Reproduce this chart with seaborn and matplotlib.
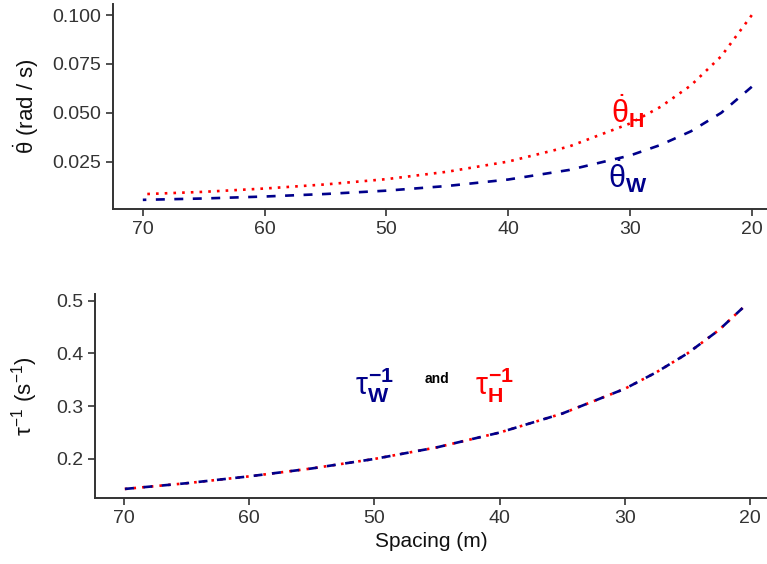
import matplotlib
matplotlib.use("Agg")
import matplotlib.pyplot as plt
import seaborn as sns
import pandas as pd

# Spacing between vehicles (m)
spacing = [70, 65, 60, 55, 50, 45, 40, 35, 30, 27.5, 25, 22.5, 20]
# Angular rate of the looming angle (rad/s)
theta_dot_H = [0.0083, 0.0095, 0.0112, 0.0133, 0.0160, 0.0198, 0.0250, 0.0327, 0.0445,
               0.0530, 0.0640, 0.0790, 0.1000]
theta_dot_W = [0.0054, 0.0061, 0.0071, 0.0084, 0.0101, 0.0125, 0.0158, 0.0207, 0.0281,
               0.0335, 0.0405, 0.0500, 0.0633]

# Inverse time-to-contact (1/s)
spacing_tau = [70, 65, 60, 55, 50, 45, 40, 35, 30, 27.5, 25, 22.5, 20.6]
tau_inv_H = [0.143, 0.154, 0.167, 0.182, 0.200, 0.222, 0.250, 0.286, 0.333, 0.364, 0.400,
             0.444, 0.486]
tau_inv_W = [0.143, 0.154, 0.167, 0.182, 0.200, 0.222, 0.250, 0.286, 0.333, 0.364, 0.400,
             0.444, 0.486]

top_ticks = [0.025, 0.050, 0.075, 0.100]
bottom_ticks = [0.2, 0.3, 0.4, 0.5]
x_ticks = [70, 60, 50, 40, 30, 20]

RED = "#FF0000"
NAVY = "#00008B"

sns.set_theme(style="ticks")
plt.rcParams["font.family"] = ["Liberation Sans", "DejaVu Sans"]
plt.rcParams["mathtext.fontset"] = "custom"
plt.rcParams["mathtext.rm"] = "Liberation Sans"
plt.rcParams["mathtext.it"] = "Liberation Sans"
plt.rcParams["mathtext.bf"] = "Liberation Sans:bold"

fig = plt.figure(figsize=(7.67, 5.64), dpi=100)
ax1 = fig.add_axes([0.1473, 0.6294, 0.8527, 0.3635])
ax2 = fig.add_axes([0.1239, 0.1170, 0.8761, 0.3617])

theta_df = pd.DataFrame({
    "spacing": spacing * 2,
    "value": theta_dot_H + theta_dot_W,
    "series": ["H"] * len(spacing) + ["W"] * len(spacing),
})
tau_df = pd.DataFrame({
    "spacing": spacing_tau * 2,
    "value": tau_inv_H + tau_inv_W,
    "series": ["H"] * len(spacing_tau) + ["W"] * len(spacing_tau),
})

palette = {"H": RED, "W": NAVY}
dashes = {"H": (1, 2.3), "W": (3.4, 3.6)}

sns.lineplot(data=theta_df, x="spacing", y="value", hue="series", style="series",
             palette=palette, dashes=dashes, linewidth=1.9, legend=False, ax=ax1)
sns.lineplot(data=tau_df, x="spacing", y="value", hue="series", style="series",
             palette=palette, dashes=dashes, linewidth=1.9, legend=False, ax=ax2,
             hue_order=["H", "W"])

ax1.set_xlim(72.45, 18.75)
ax1.set_ylim(0.0007, 0.1057)
ax1.set_yticks(top_ticks)
ax1.set_yticklabels([f"{t:.3f}" for t in top_ticks])
ax2.set_xlim(72.3, 18.65)
ax2.set_ylim(0.126, 0.5125)
ax2.set_yticks(bottom_ticks)
ax2.set_yticklabels([f"{t:.1f}" for t in bottom_ticks])

for ax in (ax1, ax2):
    ax.set_xticks(x_ticks)
    ax.set_xticklabels([str(t) for t in x_ticks])
    ax.tick_params(labelsize=14, colors="#333333", length=5, width=1.2,
                   labelcolor="#333333")
    for side in ("top", "right"):
        ax.spines[side].set_visible(False)
    for side in ("left", "bottom"):
        ax.spines[side].set_color("#333333")
        ax.spines[side].set_linewidth(1.4)
    ax.set_facecolor("white")

ax1.set_xlabel("")
ax1.set_ylabel(r"$\dot{\theta}$ (rad / s)", fontsize=16, color="#111111")
ax1.yaxis.set_label_coords(-0.11, 0.5)
ax2.set_xlabel("Spacing (m)", fontsize=15, color="#111111")
ax2.set_ylabel(r"$\tau^{-1}$ (s$^{-1}$)", fontsize=16, color="#111111")
ax2.yaxis.set_label_coords(-0.082, 0.5)

ax1.text(30.2, 0.051, r"$\dot{\theta}_{\mathbf{H}}$", color=RED, fontsize=22,
         ha="center", va="center")
ax1.text(30.2, 0.0175, r"$\dot{\theta}_{\mathbf{W}}$", color=NAVY, fontsize=22,
         ha="center", va="center")

ax2.text(50.0, 0.34, r"$\tau_{\mathbf{W}}^{\mathbf{-1}}$", color=NAVY, fontsize=22,
         ha="center", va="center")
ax2.text(45.0, 0.352, "and", color="black", fontsize=10, fontweight="bold",
         ha="center", va="center")
ax2.text(40.4, 0.34, r"$\tau_{\mathbf{H}}^{\mathbf{-1}}$", color=RED, fontsize=22,
         ha="center", va="center")

fig.savefig("out.png", dpi=100, facecolor="white")
